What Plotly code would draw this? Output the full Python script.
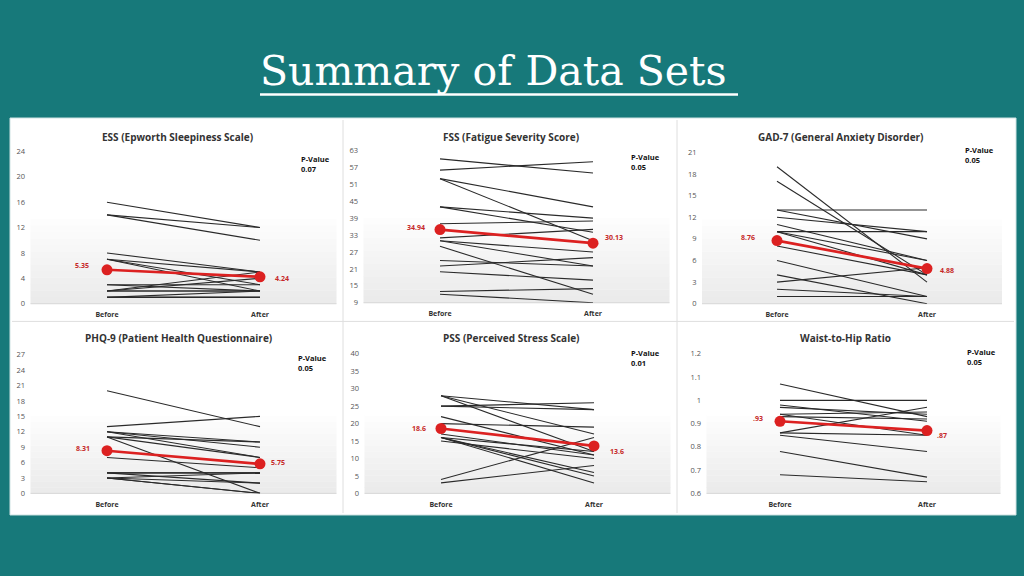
import plotly.graph_objects as go

# ---------------- data ----------------
panel_titles = ["ESS (Epworth Sleepiness Scale)", "FSS (Fatigue Severity Score)",
                "GAD-7 (General Anxiety Disorder)", "PHQ-9 (Patient Health Questionnaire)",
                "PSS (Perceived Stress Scale)", "Waist-to-Hip Ratio"]
categories = ["Before", "After"]
p_values = ["0.07", "0.05", "0.05", "0.05", "0.01", "0.05"]

ess_before = [16, 14, 14, 8, 7, 7, 7, 3, 3, 2, 2, 2, 1, 1, 1, 1, 2]
ess_after = [12, 12, 10, 5, 5, 2, 3, 3, 2, 5, 2, 4, 1, 1, 2, 1, 2]
ess_mean = [5.35, 4.24]

fss_before = [60, 56, 53, 53, 43, 43, 37, 32, 31, 31, 29, 24, 22, 20, 13, 12]
fss_after = [55, 59, 43, 31, 39, 34, 38, 35, 27, 22, 12, 22, 25, 17, 14, 9]
fss_mean = [34.94, 30.13]

gad_before = [19, 17, 13, 13, 12, 11, 10, 10, 10, 8, 6, 4, 3, 2, 1, 1]
gad_after = [3, 4, 13, 9, 10, 6, 10, 6, 4, 4, 1, 0, 5, 1, 1, 1]
gad_mean = [8.76, 4.88]

phq_before = [20, 13, 12, 12, 12, 11, 11, 11, 7, 4, 4, 4, 3, 3, 3, 3]
phq_after = [13, 15, 10, 9, 7, 10, 0, 7, 5, 4, 4, 2, 4, 2, 0, 0]
phq_mean = [8.31, 5.75]

pss_before = [28, 28, 28, 25, 25, 22, 20, 17, 16, 16, 16, 16, 15, 4, 3]
pss_after = [24, 17, 12, 26, 24, 11, 19, 11, 5, 6, 3, 12, 10, 16, 8]
pss_mean = [18.6, 13.6]

whr_before = [1.07, 1.0, 0.98, 0.97, 0.94, 0.94, 0.93, 0.86, 0.86, 0.85, 0.78, 0.68]
whr_after = [0.93, 1.0, 0.91, 0.94, 0.95, 0.85, 0.92, 0.97, 0.85, 0.78, 0.67, 0.65]
whr_mean = [0.91, 0.87]

mean_labels = [["5.35", "4.24"], ["34.94", "30.13"], ["8.76", "4.88"],
               ["8.31", "5.75"], ["18.6", "13.6"], [".93", ".87"]]

ess_ticks = [0, 4, 8, 12, 16, 20, 24]
fss_ticks = [9, 15, 21, 27, 33, 39, 45, 51, 57, 63]
gad_ticks = [0, 3, 6, 9, 12, 15, 18, 21]
phq_ticks = [0, 3, 6, 9, 12, 15, 18, 21, 24, 27]
pss_ticks = [0, 5, 10, 15, 20, 25, 30, 35, 40]
whr_ticks = [0.6, 0.7, 0.8, 0.9, 1.0, 1.1, 1.2]
whr_tick_text = ["0.6", "0.7", "0.8", "0.9", "1", "1.1", "1.2"]

# ---------------- layout constants (pixels) ----------------
W, H = 1024, 576
TEAL = "#17797a"
RED = "#dc2121"

def px(x):
    return x / W

def py(y):
    return 1 - y / H

# plot areas: (left, right, top, bottom) in pixels
areas = [(30.5, 336.5, 149, 304), (363.5, 669.5, 148, 303), (702, 1002, 150, 304),
         (30.5, 336.5, 356, 497), (364.5, 670.5, 355, 497), (706.5, 1000.5, 355, 497)]
title_pos = [(177, 134), (511, 134), (841, 134), (178, 339), (511, 339), (845, 339)]
pval_pos = [(299, 162), (629, 160), (963, 153), (296, 364), (629, 359), (965, 358)]
# mean label shifts: (before xshift, before yshift, after xshift, after yshift)
label_shift = [(-25, 4, 22, -2), (-24, 2, 21, 6), (-29, 3, 20, -2),
               (-24, 2, 18, 1), (-22, 0, 23, -6), (-22, 3, 15, -5)]

datasets = [
    (ess_before, ess_after, ess_mean, ess_ticks, [str(t) for t in ess_ticks]),
    (fss_before, fss_after, fss_mean, fss_ticks, [str(t) for t in fss_ticks]),
    (gad_before, gad_after, gad_mean, gad_ticks, [str(t) for t in gad_ticks]),
    (phq_before, phq_after, phq_mean, phq_ticks, [str(t) for t in phq_ticks]),
    (pss_before, pss_after, pss_mean, pss_ticks, [str(t) for t in pss_ticks]),
    (whr_before, whr_after, whr_mean, whr_ticks, whr_tick_text),
]

fig = go.Figure()
shapes = []
annotations = []

# white panel and dividers
shapes.append(dict(type="rect", xref="paper", yref="paper", x0=px(10), x1=px(1016),
                   y0=py(519), y1=py(115), fillcolor="white",
                   line=dict(color="#cfe3e3", width=1), layer="below"))
for xd in (343, 677):
    shapes.append(dict(type="line", xref="paper", yref="paper", x0=px(xd), x1=px(xd),
                       y0=py(517), y1=py(117), line=dict(color="#dedede", width=1), layer="below"))
shapes.append(dict(type="line", xref="paper", yref="paper", x0=px(12), x1=px(1014),
                   y0=py(322), y1=py(322), line=dict(color="#dedede", width=1), layer="below"))

xpos = [0, 1]
for i, (before, after, mean, ticks, ticktext) in enumerate(datasets):
    n = i + 1
    xa = "x" if n == 1 else f"x{n}"
    ya = "y" if n == 1 else f"y{n}"
    xkey = "xaxis" if n == 1 else f"xaxis{n}"
    ykey = "yaxis" if n == 1 else f"yaxis{n}"
    L, R, T, B = areas[i]

    fig.update_layout({
        xkey: dict(domain=[px(L), px(R)], anchor=ya, range=[-0.5, 1.5],
                   tickvals=xpos, ticktext=[f"<b>{c}</b>" for c in categories],
                   tickfont=dict(family="Open Sans", size=7, color="#333333"),
                   showgrid=False, zeroline=False, showline=False,
                   ticks="outside", ticklen=4, tickcolor="rgba(0,0,0,0)", fixedrange=True),
        ykey: dict(domain=[py(B), py(T)], anchor=xa, range=[ticks[0], ticks[-1]],
                   tickvals=ticks, ticktext=ticktext,
                   tickfont=dict(family="Open Sans", size=7.5, color="#555555"),
                   showgrid=False, zeroline=False, showline=False,
                   ticks="outside", ticklen=3, tickcolor="rgba(0,0,0,0)", fixedrange=True),
    })

    # gradient fill in lower part of plot area
    steps = 14
    for s in range(steps):
        f0 = 0.6 * s / steps
        f1 = 0.6 * (s + 1) / steps
        g = int(235 + (255 - 235) * (s / (steps - 1)))
        shapes.append(dict(type="rect", xref=f"{xa} domain", yref=f"{ya} domain",
                           x0=0, x1=1, y0=f0, y1=f1 + 0.002,
                           fillcolor=f"rgb({g},{g},{g})", line=dict(width=0), layer="below"))
    shapes.append(dict(type="line", xref=f"{xa} domain", yref=f"{ya} domain",
                       x0=0, x1=1, y0=0, y1=0, line=dict(color="#d6d6d6", width=1), layer="below"))

    # individual lines
    xs, ys = [], []
    for b, a in zip(before, after):
        xs += [xpos[0], xpos[1], None]
        ys += [b, a, None]
    fig.add_trace(go.Scatter(x=xs, y=ys, xaxis=xa, yaxis=ya, mode="lines",
                             line=dict(color="#2a2a2a", width=1.1), hoverinfo="skip",
                             showlegend=False))
    # mean line
    fig.add_trace(go.Scatter(x=xpos, y=mean, xaxis=xa, yaxis=ya, mode="lines+markers",
                             line=dict(color=RED, width=2.7),
                             marker=dict(color=RED, size=11), showlegend=False))

    bx, by, ax_, ay = label_shift[i]
    for k, (xs_, ys_) in enumerate([(bx, by), (ax_, ay)]):
        annotations.append(dict(x=xpos[k], y=mean[k], xref=xa, yref=ya,
                                text=f"<b>{mean_labels[i][k]}</b>", showarrow=False,
                                xshift=xs_, yshift=ys_,
                                font=dict(family="Open Sans", size=7, color="#c62828")))

    tx, ty = title_pos[i]
    annotations.append(dict(x=px(tx), y=py(ty), xref="paper", yref="paper",
                            text=f"<b>{panel_titles[i]}</b>", showarrow=False,
                            xanchor="center", yanchor="middle",
                            font=dict(family="Open Sans", size=10, color="#333333")))
    vx, vy = pval_pos[i]
    annotations.append(dict(x=px(vx), y=py(vy), xref="paper", yref="paper",
                            text=f"<b>P-Value<br>{p_values[i]}</b>", showarrow=False,
                            xanchor="left", yanchor="middle", align="left",
                            font=dict(family="Open Sans", size=7.5, color="#111111")))

# main title
annotations.append(dict(x=px(493), y=py(67), xref="paper", yref="paper",
                        text="Summary of Data Sets", showarrow=False,
                        xanchor="center", yanchor="middle",
                        font=dict(family="DejaVu Serif", size=41, color="white")))
shapes.append(dict(type="line", xref="paper", yref="paper", x0=px(260), x1=px(738),
                   y0=py(91), y1=py(91), line=dict(color="white", width=2.5)))

fig.update_layout(width=W, height=H, margin=dict(l=0, r=0, t=0, b=0),
                  paper_bgcolor=TEAL, plot_bgcolor="rgba(0,0,0,0)",
                  shapes=shapes, annotations=annotations, showlegend=False)

fig.write_html("out.html", config={"displayModeBar": False},
               post_script="document.body.style.margin='0';document.body.style.padding='0';"
                           "document.body.style.overflow='hidden';")
